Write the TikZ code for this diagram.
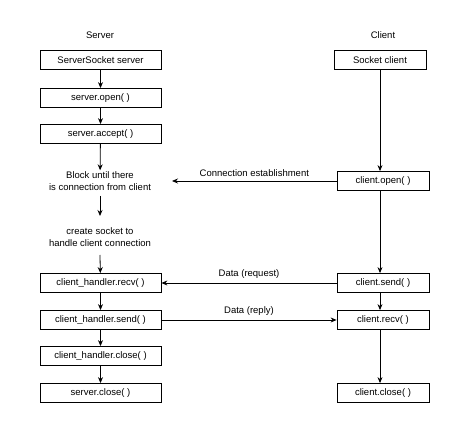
\documentclass[tikz,border=0pt]{standalone}
\usepackage{fontspec}
\setmainfont{Liberation Sans}
\usetikzlibrary{arrows.meta}
\begin{document}
\begin{tikzpicture}[x=1pt,y=-1pt,font=\fontsize{9.5}{12}\selectfont,
  box/.style={draw,line width=0.8pt,minimum height=19pt,inner sep=0pt},
  lb/.style={box,minimum width=121pt},
  rb/.style={box,minimum width=92pt},
  txt/.style={align=center,inner sep=1pt},
  arr/.style={-{Stealth[length=6pt,width=5pt]},line width=0.8pt}]
\useasboundingbox (0,0) rectangle (474,427);
\node at (100,35) {Server};
\node at (383,35) {Client};
\node[lb] (s1) at (100.5,60) {ServerSocket server};
\node[lb] (s2) at (100.5,98) {server.open( )};
\node[lb] (s3) at (100.5,134) {server.accept( )};
\node[txt] (s4) at (100,181) {Block until there\\is connection from client};
\node[txt] (s5) at (100,237) {create socket to\\handle client connection};
\node[lb] (s6) at (100.5,283) {client\_handler.recv( )};
\node[lb] (s7) at (100.5,320) {client\_handler.send( )};
\node[lb] (s8) at (100.5,356) {client\_handler.close( )};
\node[lb] (s9) at (100.5,393) {server.close( )};
\node[rb] (c1) at (380,60) {Socket client};
\node[rb] (c2) at (383,181) {client.open( )};
\node[rb] (c3) at (383,283) {client.send( )};
\node[rb] (c4) at (383,320) {client.recv( )};
\node[rb] (c5) at (383,393) {client.close( )};
\draw[arr] (s1) -- (s2);
\draw[arr] (s2) -- (s3);
\draw[arr] (s3) -- (s4);
\draw[arr] (s4.south |- 0,196) -- (s4.south |- 0,216);
\draw[arr] (100,255) -- (s6);
\draw[arr] (s6) -- (s7);
\draw[arr] (s7) -- (s8);
\draw[arr] (s8) -- (s9);
\draw[arr] (c1) -- (c1 |- c2.north);
\draw[arr] (c1 |- c2.south) -- (c1 |- c3.north);
\draw[arr] (c1 |- c3.south) -- (c1 |- c4.north);
\draw[arr] (c1 |- c4.south) -- (c1 |- c5.north);
\draw[arr] (c2) -- node[above=1pt]{Connection establishment} (172,181);
\draw[arr] (c3) -- node[above=1pt]{Data (request)} (s6);
\draw[arr] (s7) -- node[above=1pt]{Data (reply)} (c4);
\end{tikzpicture}
\end{document}
